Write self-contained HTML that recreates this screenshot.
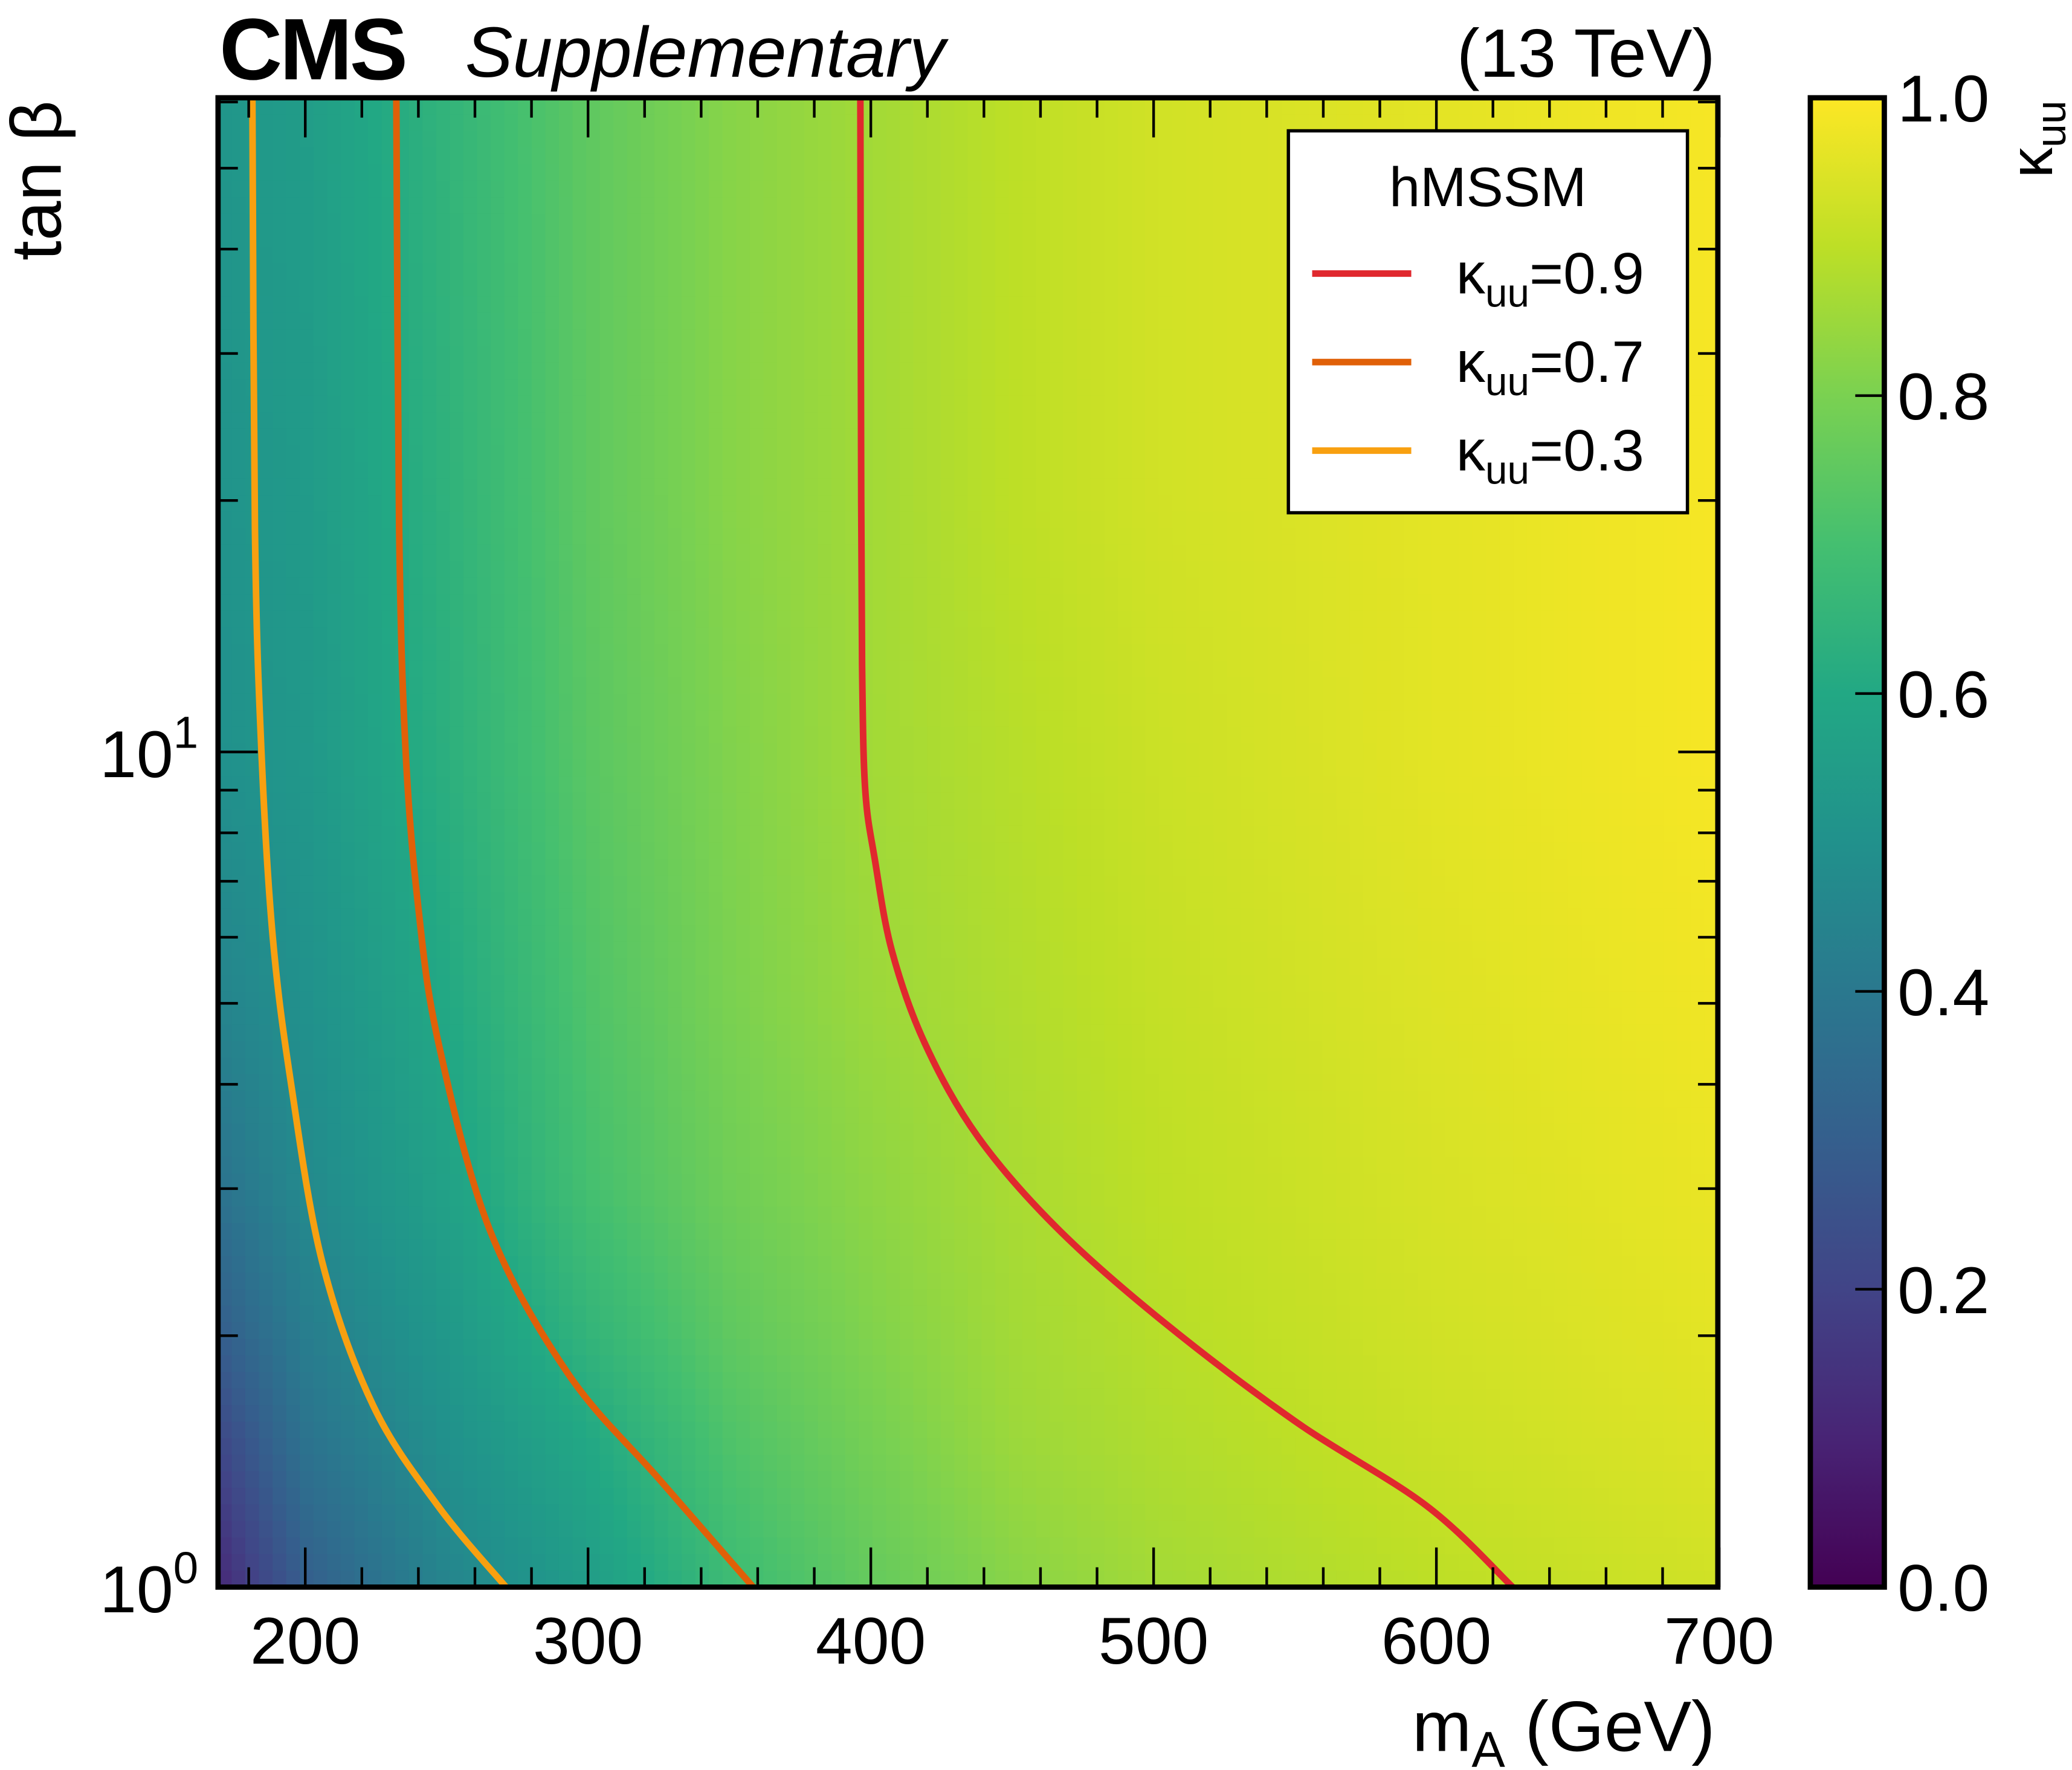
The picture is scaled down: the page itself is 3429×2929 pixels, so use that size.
<!DOCTYPE html>
<html><head><meta charset="utf-8"><style>
html,body{margin:0;padding:0;background:#fff}
svg{display:block;font-family:"Liberation Sans",sans-serif}
</style></head><body>
<svg id="chart" width="3429" height="2929" viewBox="0 0 1568 1339.4" xmlns="http://www.w3.org/2000/svg">
<defs>
<linearGradient id="cbgrad" x1="0" y1="1" x2="0" y2="0">
<stop offset="0" stop-color="#440154"/><stop offset="0.1" stop-color="#482475"/><stop offset="0.2" stop-color="#414487"/><stop offset="0.3" stop-color="#355f8d"/><stop offset="0.4" stop-color="#2a788e"/><stop offset="0.5" stop-color="#21918c"/><stop offset="0.6" stop-color="#22a884"/><stop offset="0.7" stop-color="#44bf70"/><stop offset="0.8" stop-color="#7ad151"/><stop offset="0.9" stop-color="#bddf26"/><stop offset="1" stop-color="#fde725"/>
</linearGradient>
<clipPath id="plotclip"><rect x="165" y="74" width="1135" height="1127"/></clipPath>
</defs>
<g id="heat" clip-path="url(#plotclip)"></g>
<g id="contours" clip-path="url(#plotclip)"></g>
<g id="ticks"></g>
<rect x="165" y="74" width="1135" height="1127" fill="none" stroke="#000" stroke-width="4"/>
<text x="166" y="60" font-size="66" font-weight="bold" letter-spacing="-2">CMS</text>
<text x="352" y="58" font-size="54" font-style="italic">Supplementary</text>
<text x="1298" y="58" font-size="52" text-anchor="end">(13 TeV)</text>
<text x="1298" y="1325" font-size="54" text-anchor="end">m<tspan font-size="38" dy="12">A</tspan><tspan dy="-12"> (GeV)</tspan></text>
<text transform="translate(46,76) rotate(-90)" font-size="54" text-anchor="end">tan β</text>
<g id="xlabels"></g>
<g font-size="50">
<text x="150" y="1220" text-anchor="end">10<tspan font-size="34" dy="-22">0</tspan></text>
<text x="150" y="588" text-anchor="end">10<tspan font-size="34" dy="-22">1</tspan></text>
</g>
<g>
<rect x="975" y="99" width="302" height="289" fill="#fff" stroke="#000" stroke-width="2.5"/>
<text x="1126" y="156" font-size="42" text-anchor="middle">hMSSM</text>
<line x1="993" y1="207" x2="1068" y2="207" stroke="#e0282e" stroke-width="5"/>
<text x="1102" y="222" font-size="44">κ<tspan font-size="30" dy="10">uu</tspan><tspan dy="-10">=0.9</tspan></text>
<line x1="993" y1="274" x2="1068" y2="274" stroke="#e06008" stroke-width="5"/>
<text x="1102" y="289" font-size="44">κ<tspan font-size="30" dy="10">uu</tspan><tspan dy="-10">=0.7</tspan></text>
<line x1="993" y1="341" x2="1068" y2="341" stroke="#f8a010" stroke-width="5"/>
<text x="1102" y="356" font-size="44">κ<tspan font-size="30" dy="10">uu</tspan><tspan dy="-10">=0.3</tspan></text>
</g>
<g>
<rect x="1370" y="74" width="56" height="1127" fill="url(#cbgrad)" stroke="#000" stroke-width="4"/>
<g id="cbticks"></g>
<text transform="translate(1553,76) rotate(-90)" font-size="46" text-anchor="end">κ<tspan font-size="32" dy="10">uu</tspan></text>
</g>
</svg>
<script>
const mAcols=[170,200,250,300,350,400,450,500,600,700];
const tanbRows=[1,1.5,2,3,5,10,20,60];
const kappaGrid=[
[0.12,0.30,0.45,0.55,0.68,0.76,0.82,0.86,0.90,0.93],
[0.22,0.38,0.50,0.60,0.72,0.79,0.85,0.88,0.92,0.95],
[0.30,0.42,0.53,0.65,0.75,0.81,0.86,0.89,0.93,0.96],
[0.38,0.47,0.57,0.70,0.78,0.83,0.87,0.90,0.94,0.97],
[0.45,0.50,0.60,0.72,0.80,0.85,0.88,0.91,0.95,0.98],
[0.50,0.53,0.63,0.74,0.81,0.86,0.89,0.92,0.96,0.99],
[0.51,0.54,0.64,0.75,0.82,0.86,0.90,0.93,0.96,0.99],
[0.52,0.55,0.65,0.75,0.82,0.86,0.90,0.93,0.96,0.99]];
const c09mA=[396.3,396.6,397.0,398.1,401.4,407.5,419.2,437.9,465.9,503.3,550,596.7,627];
const c09tb=[60.7,20,12,8.93,7.44,5.77,4.47,3.46,2.69,2.08,1.58,1.25,1.0];
const c07mA=[232.2,233.2,235.5,240,247,265,293,325.7,358.4];
const c07tb=[60.7,18.5,10,6.5,4.5,2.69,1.80,1.34,1.0];
const c03mA=[181.3,182.2,184.5,188.5,195,206,224,247,271];
const c03tb=[60.7,18.5,10,6,4,2.45,1.65,1.25,1.0];
const xTicks=[200,300,400,500,600,700];
const cbTicks=[0.0,0.2,0.4,0.6,0.8,1.0];

const NS="http://www.w3.org/2000/svg";
const X=m=>231+(m-200)*2.14;
const Y=t=>1201-Math.log10(t)*632;
const CB=v=>1201-v*1127;
const stops=["#440154","#482475","#414487","#355f8d","#2a788e","#21918c","#22a884","#44bf70","#7ad151","#bddf26","#fde725"].map(h=>[1,3,5].map(i=>parseInt(h.substr(i,2),16)));
function viridis(v){v=Math.max(0,Math.min(1,v))*10;const i=Math.min(9,Math.floor(v)),f=v-i;const a=stops[i],b=stops[i+1];return `rgb(${a.map((c,k)=>Math.round(c+(b[k]-c)*f)).join(',')})`;}
function seg(arr,v){for(let i=0;i<arr.length-1;i++)if(v<=arr[i+1])return[i,(v-arr[i])/(arr[i+1]-arr[i])];return[arr.length-2,1];}
const lr=tanbRows.map(Math.log10);
function kappa(m,t){const[i,fi]=seg(mAcols,m);const[j,fj]=seg(lr,Math.log10(t));
const g=kappaGrid;const a=g[j][i]*(1-fi)+g[j][i+1]*fi, b=g[j+1][i]*(1-fi)+g[j+1][i+1]*fi;return a*(1-fj)+b*fj;}
const heat=document.getElementById('heat');
const NX=110,NY=90,x0=165,x1=1300,y0=74,y1=1201;
for(let a=0;a<NX;a++)for(let b=0;b<NY;b++){
 const px=x0+(x1-x0)*a/NX, py=y0+(y1-y0)*b/NY, w=(x1-x0)/NX, h=(y1-y0)/NY;
 const m=200+(px+w/2-231)/2.14, t=Math.pow(10,(1201-(py+h/2))/632);
 const r=document.createElementNS(NS,'rect');
 
 
 r.setAttribute('x',px);r.setAttribute('y',py);r.setAttribute('width',w+0.6);r.setAttribute('height',h+0.6);r.setAttribute('fill',viridis(kappa(m,t)));heat.appendChild(r);}
function contour(ms,ts,col,name){
 const P=ms.map((m,i)=>[X(m),Y(ts[i])]);
 let d='M'+P[0][0]+','+P[0][1];
 for(let i=0;i<P.length-1;i++){const p0=P[Math.max(0,i-1)],p1=P[i],p2=P[i+1],p3=P[Math.min(P.length-1,i+2)];
  const c1=[p1[0]+(p2[0]-p0[0])/6,p1[1]+(p2[1]-p0[1])/6],c2=[p2[0]-(p3[0]-p1[0])/6,p2[1]-(p3[1]-p1[1])/6];
  d+=` C${c1[0]},${c1[1]} ${c2[0]},${c2[1]} ${p2[0]},${p2[1]}`;}
 const p=document.createElementNS(NS,'path');
 
 
 p.setAttribute('d',d);p.setAttribute('fill','none');p.setAttribute('stroke',col);p.setAttribute('stroke-width','5');document.getElementById('contours').appendChild(p);}
contour(c03mA,c03tb,'#f8a010','contour-kappa-0.3');
contour(c07mA,c07tb,'#e06008','contour-kappa-0.7');
contour(c09mA,c09tb,'#e0282e','contour-kappa-0.9');
const tk=document.getElementById('ticks');
function ln(x1,y1,x2,y2){const l=document.createElementNS(NS,'line');l.setAttribute('x1',x1);l.setAttribute('y1',y1);l.setAttribute('x2',x2);l.setAttribute('y2',y2);l.setAttribute('stroke','#000');l.setAttribute('stroke-width','2');tk.appendChild(l);}
for(let m=180;m<=700;m+=20){const x=X(m),L=(m%100===0)?30:15;ln(x,1201,x,1201-L);ln(x,74,x,74+L);}
for(let d=0;d<2;d++)for(let k=1;k<10;k++){const t=k*Math.pow(10,d);if(t>60)break;const y=Y(t),L=(k===1)?30:15;ln(165,y,165+L,y);ln(1300,y,1300-L,y);}
const xl=document.getElementById('xlabels');
xTicks.forEach(v=>{const t=document.createElementNS(NS,'text');t.setAttribute('x',X(v));t.setAttribute('y',1259);t.setAttribute('font-size','50');t.setAttribute('text-anchor','middle');t.textContent=v;xl.appendChild(t);});
const cb=document.getElementById('cbticks');
cbTicks.forEach(v=>{const y=CB(v);const l=document.createElementNS(NS,'line');l.setAttribute('x1',1426);l.setAttribute('x2',1404);l.setAttribute('y1',y);l.setAttribute('y2',y);l.setAttribute('stroke','#000');l.setAttribute('stroke-width','2');cb.appendChild(l);
const t=document.createElementNS(NS,'text');t.setAttribute('x',1436);t.setAttribute('y',y+18);t.setAttribute('font-size','50');t.textContent=v.toFixed(1);cb.appendChild(t);});
</script>
</body></html>
